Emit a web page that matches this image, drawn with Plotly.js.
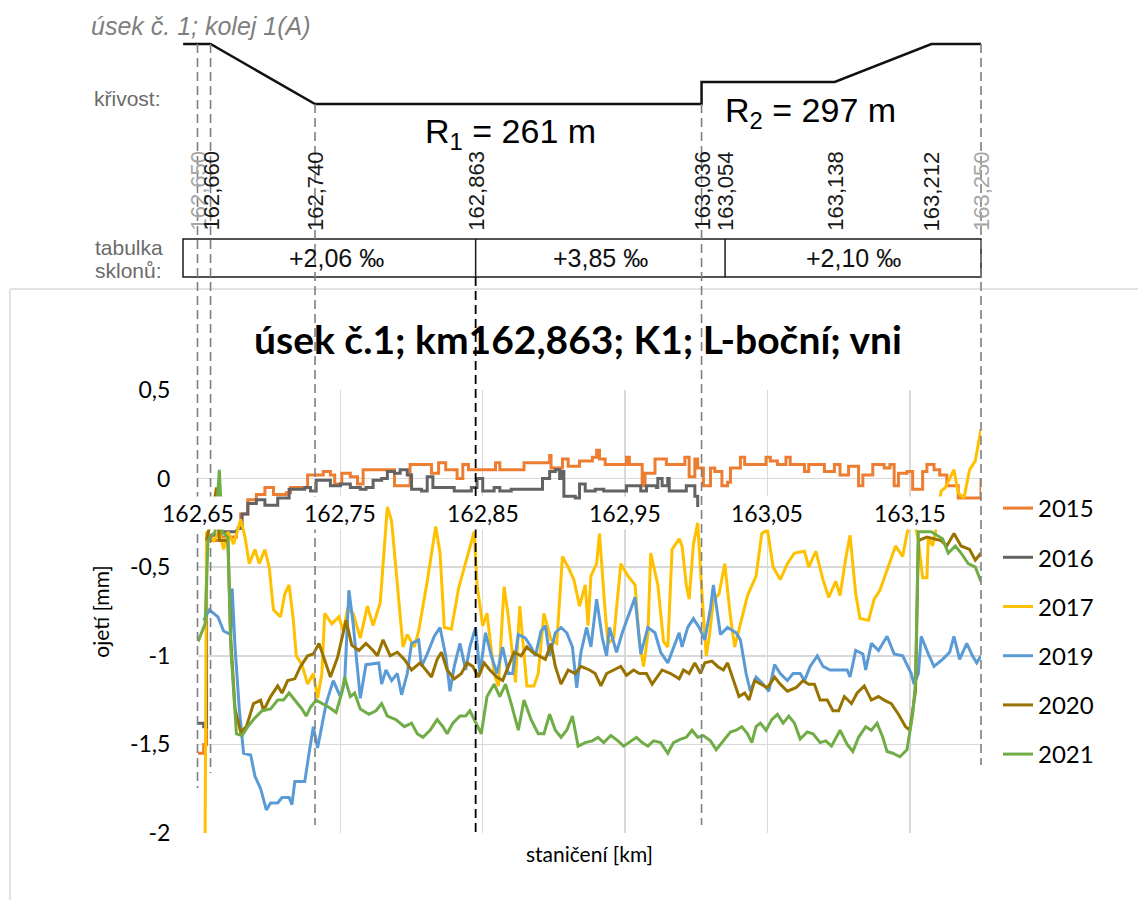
<!DOCTYPE html>
<html><head><meta charset="utf-8">
<script src="https://cdn.plot.ly/plotly-3.0.1.min.js"></script>
<style>html,body{margin:0;padding:0;background:#fff}#chart{width:1138px;height:900px}</style>
</head><body><div id="chart"></div><script>
// ---------------- DATA ----------------
const years = ['2015','2016','2017','2019','2020','2021'];
const colors = ['#ED7D31','#636363','#FFC000','#5B9BD5','#997300','#70AD47'];

const x2015 = [162.650,162.654,162.656,162.665,162.677,162.680,162.685,162.691,162.697,162.702,162.703,162.712,162.715,162.726,162.727,162.738,162.743,162.746,162.751,162.757,162.762,162.766,162.786,162.788,162.798,162.799,162.813,162.814,162.818,162.819,162.822,162.824,162.831,162.832,162.834,162.836,162.839,162.840,162.858,162.859,162.861,162.862,162.878,162.879,162.895,162.897,162.898,162.905,162.906,162.909,162.910,162.916,162.918,162.925,162.927,162.930,162.932,162.936,162.950,162.951,162.953,162.960,162.962,162.964,162.970,162.971,162.978,162.979,162.991,162.992,162.995,162.998,162.999,163.001,163.005,163.009,163.010,163.013,163.018,163.022,163.024,163.031,163.034,163.049,163.052,163.057,163.063,163.066,163.076,163.079,163.090,163.097,163.101,163.107,163.114,163.117,163.124,163.132,163.136,163.139,163.142,163.148,163.152,163.156,163.159,163.162,163.167,163.171,163.176,163.184,163.197,163.200];
const y2015 = [-1.55,-1.50,-0.35,-0.33,-0.28,-0.20,-0.12,-0.09,-0.05,-0.05,-0.09,-0.08,-0.05,-0.05,0.02,0.04,0.02,-0.03,0.03,0.01,-0.03,0.05,0.05,-0.04,-0.04,0.08,0.08,0.03,0.03,0.09,0.09,0.05,0.05,0.00,0.00,0.08,0.08,0.05,0.05,0.09,0.09,0.05,0.05,0.09,0.09,0.13,0.06,0.06,0.11,0.11,0.07,0.07,0.10,0.10,0.12,0.16,0.11,0.08,0.08,0.12,0.08,0.08,-0.04,0.03,0.03,0.11,0.11,0.08,0.08,0.12,0.01,0.01,0.11,0.06,-0.04,-0.04,0.06,0.04,-0.04,-0.02,0.06,0.12,0.08,0.12,0.10,0.08,0.12,0.08,0.04,0.08,0.04,0.08,0.02,0.07,-0.04,0.02,0.08,0.06,0.08,-0.04,0.03,0.04,-0.06,-0.06,0.04,0.08,0.05,0.02,-0.04,-0.11,-0.11,0.00];

const x2016 = [162.650,162.654,162.656,162.666,162.677,162.681,162.685,162.691,162.697,162.706,162.714,162.725,162.729,162.733,162.740,162.743,162.750,162.757,162.764,162.768,162.773,162.779,162.783,162.788,162.792,162.797,162.800,162.807,162.811,162.815,162.826,162.830,162.838,162.842,162.846,162.850,162.858,162.862,162.870,162.888,162.892,162.897,162.901,162.904,162.906,162.907,162.915,162.918,162.922,162.929,162.935,162.949,162.951,162.958,162.961,162.965,162.972,162.973,162.976,162.980,162.981,162.991,162.993,162.996,162.999,163.001];
const y2016 = [-1.38,-1.40,-0.32,-0.30,-0.28,-0.20,-0.14,-0.12,-0.15,-0.11,-0.06,-0.05,-0.07,-0.01,-0.01,-0.04,-0.03,-0.05,-0.06,-0.05,-0.01,0.00,0.04,0.03,0.05,0.02,-0.06,-0.07,0.01,-0.05,-0.05,-0.07,-0.07,-0.05,0.00,-0.07,-0.05,-0.07,-0.06,-0.06,0.00,0.04,0.05,0.00,0.04,-0.10,-0.11,-0.03,-0.07,-0.06,-0.07,-0.07,-0.04,-0.04,-0.07,-0.04,-0.05,0.00,-0.04,0.00,-0.07,-0.07,-0.04,-0.04,-0.10,-0.16];

const x2017 = [162.655,162.656,162.661,162.665,162.668,162.671,162.675,162.680,162.683,162.686,162.690,162.693,162.697,162.700,162.703,162.708,162.711,162.714,162.717,162.719,162.723,162.727,162.731,162.734,162.737,162.739,162.744,162.749,162.752,162.755,162.759,162.764,162.769,162.773,162.778,162.783,162.786,162.790,162.794,162.797,162.802,162.805,162.811,162.817,162.820,162.823,162.828,162.833,162.839,162.844,162.846,162.850,162.853,162.858,162.861,162.865,162.868,162.873,162.876,162.881,162.886,162.889,162.893,162.898,162.902,162.906,162.910,162.914,162.918,162.922,162.924,162.926,162.930,162.932,162.936,162.938,162.942,162.947,162.952,162.957,162.960,162.963,162.966,162.968,162.973,162.977,162.980,162.983,162.988,162.990,162.993,162.995,162.998,163.001,163.004,163.007,163.009,163.012,163.016,163.020,163.024,163.027,163.031,163.036,163.042,163.046,163.050,163.054,163.059,163.064,163.069,163.076,163.079,163.084,163.089,163.093,163.098,163.101,163.105,163.108,163.112,163.115,163.121,163.125,163.129,163.135,163.140,163.145,163.148,163.152,163.156,163.159,163.162,163.163,163.166,163.168,163.172,163.175,163.178,163.181,163.184,163.188,163.192,163.196,163.200];
const y2017 = [-2.00,-0.30,-0.35,-0.30,-0.40,-0.30,-0.37,-0.23,-0.33,-0.48,-0.40,-0.48,-0.40,-0.50,-0.74,-0.78,-0.65,-0.60,-0.80,-1.00,-1.05,-1.16,-1.10,-1.24,-1.10,-0.76,-0.82,-0.78,-0.86,-0.74,-0.76,-0.90,-0.72,-0.83,-0.70,-0.16,-0.24,-0.62,-0.95,-0.88,-0.95,-0.86,-0.58,-0.27,-0.42,-0.84,-0.85,-0.62,-0.45,-0.30,-0.60,-0.83,-0.76,-1.10,-1.17,-0.61,-0.78,-1.15,-0.72,-1.17,-1.17,-1.10,-0.76,-0.91,-0.93,-0.44,-0.50,-0.57,-0.72,-0.60,-0.83,-0.55,-0.48,-0.31,-0.75,-0.93,-0.90,-0.48,-0.55,-0.60,-0.92,-1.06,-0.88,-0.42,-0.60,-0.92,-0.95,-0.40,-0.34,-0.38,-0.60,-0.68,-0.37,-0.25,-0.65,-1.00,-0.90,-0.69,-0.65,-0.48,-0.78,-0.95,-0.82,-0.66,-0.55,-0.31,-0.29,-0.50,-0.57,-0.48,-0.42,-0.41,-0.50,-0.41,-0.57,-0.67,-0.58,-0.66,-0.45,-0.32,-0.65,-0.79,-0.80,-0.68,-0.63,-0.50,-0.38,-0.44,-0.31,-0.20,-0.35,-0.56,-0.56,-0.33,-0.38,-0.30,-0.07,-0.05,0.00,0.05,-0.08,-0.11,0.05,0.10,0.28];

const x2019 = [162.654,162.658,162.664,162.668,162.673,162.674,162.676,162.679,162.682,162.687,162.690,162.694,162.698,162.701,162.706,162.709,162.714,162.716,162.718,162.725,162.728,162.731,162.734,162.737,162.740,162.745,162.750,162.753,162.756,162.759,162.764,162.768,162.777,162.779,162.782,162.786,162.790,162.793,162.797,162.800,162.805,162.807,162.811,162.816,162.820,162.824,162.827,162.830,162.834,162.838,162.841,162.845,162.848,162.852,162.856,162.860,162.864,162.868,162.871,162.875,162.880,162.884,162.887,162.891,162.894,162.897,162.901,162.905,162.909,162.913,162.916,162.919,162.923,162.926,162.930,162.934,162.937,162.939,162.944,162.948,162.953,162.957,162.961,162.966,162.971,162.975,162.980,162.984,162.988,162.990,162.994,162.998,163.002,163.006,163.010,163.012,163.015,163.017,163.022,163.028,163.031,163.035,163.038,163.042,163.047,163.051,163.055,163.059,163.064,163.068,163.073,163.076,163.080,163.085,163.089,163.094,163.106,163.108,163.112,163.117,163.119,163.123,163.128,163.134,163.139,163.145,163.151,163.153,163.156,163.158,163.163,163.167,163.173,163.178,163.181,163.185,163.190,163.194,163.197,163.200];
const y2019 = [-0.80,-0.74,-0.78,-0.86,-0.88,-0.62,-0.95,-1.30,-1.55,-1.56,-1.68,-1.75,-1.87,-1.83,-1.83,-1.80,-1.80,-1.84,-1.71,-1.71,-1.55,-1.40,-1.52,-1.40,-1.27,-1.14,-1.23,-1.15,-0.63,-0.82,-1.24,-1.05,-1.04,-1.16,-1.08,-1.14,-1.10,-1.22,-1.10,-0.93,-0.91,-1.06,-0.99,-0.89,-0.84,-1.00,-1.20,-1.06,-0.93,-1.08,-0.95,-0.84,-1.10,-0.87,-1.00,-1.10,-0.95,-1.10,-1.10,-0.88,-0.90,-0.95,-1.00,-0.86,-0.83,-1.00,-0.87,-0.84,-0.87,-0.95,-1.18,-0.98,-0.84,-0.95,-0.68,-0.90,-1.00,-0.84,-0.98,-0.87,-0.76,-0.67,-0.99,-0.84,-0.87,-0.98,-1.04,-0.95,-0.87,-0.95,-0.84,-0.79,-0.84,-0.91,-0.73,-0.60,-0.76,-0.88,-0.84,-0.87,-0.91,-1.10,-1.20,-1.12,-1.16,-1.20,-1.05,-1.10,-1.14,-1.10,-1.10,-1.14,-1.06,-1.00,-1.06,-1.08,-1.08,-1.12,-0.97,-0.99,-1.08,-0.93,-0.97,-0.89,-0.99,-1.00,-1.10,-1.16,-1.10,-0.89,-0.99,-1.06,-1.02,-0.98,-0.89,-1.02,-0.93,-1.00,-1.04,-1.00];

const x2020 = [162.656,162.660,162.663,162.665,162.671,162.673,162.676,162.680,162.684,162.689,162.694,162.696,162.701,162.706,162.709,162.713,162.718,162.722,162.727,162.731,162.735,162.739,162.743,162.748,162.752,162.754,162.758,162.763,162.768,162.773,162.776,162.780,162.785,162.790,162.795,162.800,162.806,162.810,162.814,162.818,162.821,162.825,162.830,162.835,162.839,162.843,162.847,162.851,162.855,162.860,162.864,162.868,162.872,162.877,162.881,162.885,162.890,162.894,162.898,162.901,162.905,162.910,162.915,162.919,162.925,162.929,162.933,162.937,162.942,162.947,162.951,162.956,162.960,162.965,162.969,162.976,162.982,162.988,162.991,162.995,162.999,163.003,163.006,163.011,163.015,163.019,163.022,163.027,163.030,163.034,163.037,163.041,163.046,163.050,163.055,163.059,163.064,163.070,163.075,163.079,163.083,163.087,163.092,163.096,163.100,163.104,163.109,163.113,163.118,163.123,163.128,163.132,163.137,163.142,163.147,163.150,163.154,163.156,163.162,163.172,163.176,163.181,163.186,163.192,163.196,163.200];
const y2020 = [-0.35,-0.20,-0.05,-0.35,-0.35,-0.90,-1.30,-1.43,-1.40,-1.27,-1.25,-1.31,-1.23,-1.17,-1.21,-1.14,-1.13,-1.06,-1.00,-0.99,-0.93,-1.02,-1.12,-1.01,-0.88,-0.80,-0.94,-0.97,-0.93,-0.97,-1.00,-0.91,-1.00,-0.98,-1.02,-1.08,-1.04,-1.08,-1.12,-1.02,-0.98,-1.08,-1.13,-1.10,-1.04,-1.06,-1.12,-1.04,-1.08,-1.12,-1.14,-1.06,-0.98,-1.00,-0.95,-0.98,-1.00,-1.02,-0.93,-1.06,-1.16,-1.08,-1.10,-1.06,-1.08,-1.10,-1.17,-1.10,-1.08,-1.06,-1.11,-1.08,-1.10,-1.10,-1.16,-1.08,-1.10,-1.13,-1.08,-1.10,-1.04,-1.10,-1.04,-1.03,-1.06,-1.08,-1.04,-1.16,-1.23,-1.21,-1.25,-1.14,-1.16,-1.18,-1.12,-1.16,-1.20,-1.18,-1.14,-1.16,-1.16,-1.25,-1.25,-1.31,-1.31,-1.23,-1.27,-1.21,-1.17,-1.25,-1.23,-1.25,-1.27,-1.33,-1.40,-1.42,-1.20,-0.35,-0.33,-0.35,-0.38,-0.31,-0.38,-0.40,-0.46,-0.42];

const x2021 = [162.650,162.655,162.657,162.662,162.665,162.667,162.671,162.673,162.677,162.681,162.685,162.690,162.695,162.701,162.706,162.710,162.714,162.718,162.723,162.726,162.729,162.733,162.737,162.742,162.747,162.751,162.753,162.757,162.760,162.764,162.770,162.775,162.779,162.783,162.789,162.795,162.800,162.804,162.808,162.813,162.818,162.822,162.825,162.829,162.834,162.838,162.841,162.845,162.849,162.853,162.858,162.862,162.866,162.870,162.875,162.879,162.884,162.889,162.893,162.897,162.901,162.905,162.909,162.913,162.917,162.922,162.927,162.931,162.935,162.940,162.945,162.949,162.954,162.958,162.962,162.966,162.970,162.975,162.980,162.984,162.989,162.993,162.997,163.001,163.005,163.010,163.014,163.019,163.024,163.028,163.032,163.036,163.039,163.042,163.045,163.049,163.053,163.057,163.061,163.065,163.069,163.073,163.078,163.082,163.087,163.091,163.095,163.101,163.106,163.110,163.114,163.119,163.123,163.127,163.131,163.134,163.138,163.143,163.148,163.152,163.154,163.156,163.165,163.173,163.177,163.182,163.186,163.191,163.196,163.200];
const y2021 = [-0.92,-0.82,-0.35,-0.30,0.05,-0.30,-0.33,-0.95,-1.44,-1.45,-1.40,-1.35,-1.31,-1.30,-1.25,-1.25,-1.21,-1.25,-1.30,-1.34,-1.29,-1.25,-1.27,-1.29,-1.32,-1.21,-1.12,-1.23,-1.21,-1.30,-1.33,-1.31,-1.27,-1.34,-1.36,-1.40,-1.38,-1.44,-1.46,-1.42,-1.36,-1.40,-1.44,-1.38,-1.34,-1.34,-1.31,-1.38,-1.44,-1.23,-1.16,-1.23,-1.16,-1.27,-1.42,-1.25,-1.36,-1.44,-1.44,-1.33,-1.42,-1.46,-1.42,-1.34,-1.51,-1.49,-1.48,-1.46,-1.49,-1.45,-1.48,-1.51,-1.48,-1.46,-1.49,-1.51,-1.48,-1.49,-1.55,-1.49,-1.47,-1.46,-1.42,-1.46,-1.45,-1.48,-1.53,-1.48,-1.43,-1.42,-1.40,-1.44,-1.49,-1.40,-1.38,-1.42,-1.36,-1.33,-1.38,-1.34,-1.38,-1.47,-1.43,-1.44,-1.49,-1.48,-1.51,-1.42,-1.50,-1.54,-1.46,-1.40,-1.42,-1.38,-1.46,-1.54,-1.55,-1.57,-1.53,-1.33,-1.15,-0.30,-0.30,-0.34,-0.42,-0.38,-0.42,-0.48,-0.50,-0.58];

const seriesX = [x2015, x2016, x2017, x2019, x2020, x2021];
const seriesY = [y2015, y2016, y2017, y2019, y2020, y2021];
const stepShape = ['hv','hv','linear','linear','linear','linear'];

// axis ticks
const xTickVals = [162.65, 162.75, 162.85, 162.95, 163.05, 163.15];
const yTickVals = [0.5, 0, -0.5, -1, -1.5, -2];
const yTickText = ['0,5', '0', '-0,5', '-1', '-1,5', '-2'];

// track diagram (top)
const curveStations = [162.639, 162.660, 162.740, 163.036, 163.036, 163.138, 163.212, 163.250];
const curveLevel    = [0, 0, 1, 1, 0.633, 0.633, 0, 0];   // schematic: 0 = straight, 1 = R1
const stationMarks  = [162.650, 162.660, 162.740, 162.863, 163.036, 163.054, 163.138, 163.212, 163.250];
const gradStations  = [162.650, 162.863, 163.054, 163.250];
const gradLabels    = ['+2,06 ‰', '+3,85 ‰', '+2,10 ‰'];

// ---------------- LAYOUT ----------------
const W = 1138, H = 900;
const px = v => v / W;
const py = v => 1 - v / H;
const PL = 198, PR = 981, PT = 390, PB = 833;
// top diagram km scale (162.65 -> 197.5px, 163.25 -> 981px)
const kmPerPx = 0.6 / (981 - 197.5);
const x2Range = [162.65 - 197.5 * kmPerPx, 163.25 + (W - 981) * kmPerPx];
const pxToKm = p => 162.65 + (p - 197.5) * kmPerPx;
const fmtKm = v => v.toFixed(3).replace('.', ',');
const fmtTick = v => v.toFixed(2).replace('.', ',');

const traces = years.map((yr, i) => ({
  type: 'scatter', mode: 'lines', name: yr,
  x: seriesX[i], y: seriesY[i],
  xaxis: 'x', yaxis: 'y',
  line: {color: colors[i], width: 3, shape: stepShape[i]},
  legendgroup: yr, hoverinfo: 'skip'
}));

// curvature schematic
const y3top = 40, y3bot = 108, lvl0 = 44, lvl1 = 104;
traces.push({
  type: 'scatter', mode: 'lines', x: curveStations, y: curveLevel,
  xaxis: 'x2', yaxis: 'y3', showlegend: false, hoverinfo: 'skip',
  line: {color: '#111', width: 2.5}
});

const shapes = [];
const annotations = [];
const guideFont = {family: 'Liberation Sans, Arial, sans-serif'};

// outer frame of chart area
shapes.push({type:'line', xref:'paper', yref:'paper', x0:px(10), x1:px(W), y0:py(289), y1:py(289), line:{color:'#d9d9d9', width:1.5}, layer:'below'});
shapes.push({type:'line', xref:'paper', yref:'paper', x0:px(10), x1:px(10), y0:py(289), y1:py(H), line:{color:'#d9d9d9', width:1.5}, layer:'below'});

// gradient table
shapes.push({type:'rect', xref:'x2', yref:'paper', x0:pxToKm(183), x1:gradStations[3], y0:py(277), y1:py(239), line:{color:'#1a1a1a', width:1.5}});
for (let i = 1; i < gradStations.length - 1; i++) {
  shapes.push({type:'line', xref:'x2', yref:'paper', x0:gradStations[i], x1:gradStations[i], y0:py(277), y1:py(239), line:{color:'#1a1a1a', width:1.5}});
}
gradLabels.forEach((t, i) => {
  annotations.push({xref:'x2', yref:'paper', x:(gradStations[i] + gradStations[i+1]) / 2, y:py(258), text:t, showarrow:false,
    xanchor:'center', yanchor:'middle', font:{family:guideFont.family, size:25, color:'#111'}});
});

// station labels
stationMarks.forEach((s, i) => {
  const faded = (i === 0 || i === stationMarks.length - 1);
  annotations.push({xref:'x2', yref:'paper', x:s, y:py(233), text:fmtKm(s), textangle:-90, showarrow:false,
    xanchor:'center', yanchor:'bottom', font:{family:guideFont.family, size:22, color: faded ? '#a6a6a6' : '#1a1a1a'}});
});

// guide (dashed) lines
const guides = [
  {km:162.650, top:44,  bottom:788, color:'#808080', w:1.6},
  {km:162.660, top:44,  bottom:773, color:'#808080', w:1.6},
  {km:162.740, top:104, bottom:825, color:'#808080', w:1.6},
  {km:162.863, top:277, bottom:836, color:'#000000', w:1.8},
  {km:163.036, top:104, bottom:825, color:'#808080', w:1.6},
  {km:163.250, top:44,  bottom:765, color:'#808080', w:1.6}
];
guides.forEach(g => {
  shapes.push({type:'line', xref:'x2', yref:'paper', x0:g.km, x1:g.km, y0:py(g.top), y1:py(g.bottom),
    line:{color:g.color, width:g.w, dash:'9px,5px'}, layer:'above'});
});

// diagram texts
annotations.push({xref:'paper', yref:'paper', x:px(89), y:py(26), text:'<i>úsek č. 1; kolej 1(A)</i>', showarrow:false,
  xanchor:'left', yanchor:'middle', font:{family:guideFont.family, size:25, color:'#7f7f7f'}});
annotations.push({xref:'paper', yref:'paper', x:px(92), y:py(98), text:'křivost:', showarrow:false,
  xanchor:'left', yanchor:'middle', font:{family:guideFont.family, size:21, color:'#6b6b6b'}});
annotations.push({xref:'paper', yref:'paper', x:px(93), y:py(247), text:'tabulka', showarrow:false,
  xanchor:'left', yanchor:'middle', font:{family:guideFont.family, size:21, color:'#6b6b6b'}});
annotations.push({xref:'paper', yref:'paper', x:px(93), y:py(270), text:'sklonů:', showarrow:false,
  xanchor:'left', yanchor:'middle', font:{family:guideFont.family, size:21, color:'#6b6b6b'}});
annotations.push({xref:'paper', yref:'paper', x:px(510), y:py(133), text:'R<sub>1</sub> = 261 m', showarrow:false,
  xanchor:'center', yanchor:'middle', font:{family:guideFont.family, size:34, color:'#000'}});
annotations.push({xref:'paper', yref:'paper', x:px(810), y:py(113), text:'R<sub>2</sub> = 297 m', showarrow:false,
  xanchor:'center', yanchor:'middle', font:{family:guideFont.family, size:34, color:'#000'}});

// x tick labels drawn at the y = 0 crossing (Excel style)
xTickVals.forEach(v => {
  annotations.push({xref:'x', yref:'y', x:v, y:0, yshift:-34, text:fmtTick(v), showarrow:false,
    xanchor:'center', yanchor:'middle', bgcolor:'#ffffff', borderpad:2,
    font:{family:'Lato, sans-serif', size:23, color:'#000'}});
});

const layout = {
  width: W, height: H,
  margin: {l:0, r:0, t:0, b:0},
  paper_bgcolor: '#ffffff', plot_bgcolor: 'rgba(0,0,0,0)',
  font: {family: 'Lato, sans-serif', color: '#000'},
  separators: ', ',
  title: {text: '<b>úsek č.1; km162,863; K1; L-boční; vni</b>', x: px(578), y: py(340), xref:'paper', yref:'paper',
    xanchor: 'center', yanchor: 'middle', font: {family: 'Lato, sans-serif', size: 39, color: '#000'}},
  xaxis: {domain:[px(PL), px(PR)], range:[162.65, 163.2], tickvals:xTickVals, showticklabels:false, ticks:'',
    showgrid:true, gridcolor:'#d9d9d9', gridwidth:1.5, zeroline:false, showline:false, automargin:false,
    title:{text:'staničení [km]', font:{family:'Lato, sans-serif', size:21, color:'#000'}, standoff:14}, anchor:'y'},
  yaxis: {domain:[py(PB), py(PT)], range:[-2, 0.5], tickvals:yTickVals, ticktext:yTickText,
    ticks:'outside', ticklen:22, tickcolor:'rgba(0,0,0,0)', tickfont:{family:'Lato, sans-serif', size:23, color:'#000'},
    showgrid:true, gridcolor:'#d9d9d9', gridwidth:1.5, zeroline:false, showline:false, automargin:false,
    title:{text:'ojetí [mm]', font:{family:'Lato, sans-serif', size:21, color:'#000'}, standoff:14}, anchor:'x'},
  xaxis2: {domain:[0, 1], range:x2Range, visible:false, anchor:'y3', fixedrange:true},
  yaxis3: {domain:[py(y3bot), py(y3top)],
    range:[1 + (y3bot - lvl1) / (lvl1 - lvl0), -(lvl0 - y3top) / (lvl1 - lvl0)],
    visible:false, anchor:'x2', fixedrange:true},
  showlegend: true,
  legend: {x: px(998), y: py(486), xanchor:'left', yanchor:'top', traceorder:'grouped', tracegroupgap:15,
    font:{family:'Lato, sans-serif', size:24, color:'#000'}, bgcolor:'rgba(0,0,0,0)'},
  shapes: shapes,
  annotations: annotations
};

Plotly.newPlot('chart', traces, layout, {displayModeBar:false, staticPlot:true});
</script></body></html>
